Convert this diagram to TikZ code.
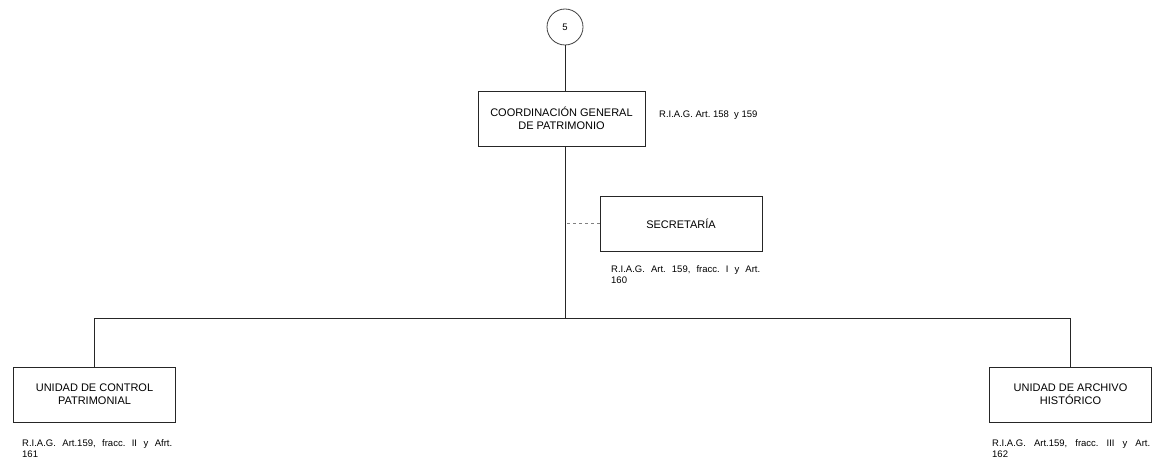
\documentclass[tikz,border=0pt]{standalone}
\usepackage{fontspec}
\setmainfont{Liberation Sans}
\frenchspacing
\begin{document}
\begin{tikzpicture}[x=1pt,y=-1pt,
  unit/.style={draw=black!85, line width=0.9pt, fill=white, minimum width=162pt, minimum height=55pt, align=center, font=\fontsize{11}{13}\selectfont, inner sep=0pt},
  ref/.style={anchor=north west, text width=#1, align=justify, font=\fontsize{9.5}{11.5}\selectfont\frenchspacing, inner sep=0pt},
  conn/.style={draw=black!85, line width=0.9pt}]
\useasboundingbox (0,0) rectangle (1153,465);
\node[circle, draw=black!75, line width=0.8pt, fill=white, minimum size=36pt, inner sep=0pt, font=\fontsize{9.5}{11}\selectfont] (c5) at (565,27) {5};
\node[unit, minimum width=167pt] (cg) at (561.5,118.5) {COORDINACIÓN GENERAL\\DE PATRIMONIO};
\node[anchor=west, inner sep=0pt, font=\fontsize{9.5}{11}\selectfont] (cgref) at (659,115) {R.I.A.G. Art. 158\ \ y 159};
\node[unit] (sec) at (681,223.5) {SECRETARÍA};
\node[ref=149pt] (secref) at (611,265) {R.I.A.G. Art. 159, fracc. I y Art.\linebreak 160};
\node[ref=150pt] (ulref) at (22,439) {R.I.A.G. Art.159, fracc. II y Afrt.\linebreak 161};
\node[unit] (ul) at (94.5,394.5) {UNIDAD DE CONTROL\\PATRIMONIAL};
\node[unit] (ur) at (1070.5,394.5) {UNIDAD DE ARCHIVO\\HISTÓRICO};
\node[ref=158pt] (urref) at (992,439) {R.I.A.G. Art.159, fracc. III y Art.\linebreak 162};
\coordinate (j) at (565,318);
\draw[conn] (c5) -- (c5 |- cg.north);
\draw[conn] (cg.south -| c5) -- (j);
\draw[conn] (ul.north) |- (ur.north |- j) -- (ur.north);
\draw[gray, dashed, line width=0.8pt] (sec.west) -- ([xshift=2pt]sec.west -| j);
\end{tikzpicture}
\end{document}
